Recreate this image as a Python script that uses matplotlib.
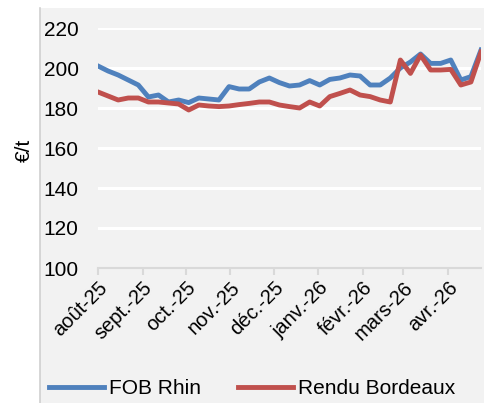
import matplotlib
matplotlib.use('Agg')
import matplotlib.pyplot as plt
import matplotlib.transforms as mtransforms
from matplotlib.patches import Rectangle
from matplotlib.lines import Line2D
import pandas as pd

# weekly prices, 1 Aug 2025 -> 24 Apr 2026
weeks = pd.date_range('2025-08-01', periods=39, freq='7D')
fob_rhin = [201, 198.5, 196.5, 194, 191.5, 185.5, 186.5, 183, 184, 182.7,
            185, 184.5, 184, 190.7, 189.5, 189.5, 193, 195, 192.7, 191,
            191.5, 193.7, 191.5, 194.3, 195, 196.5, 196, 191.5, 191.5, 195,
            200, 203, 207, 202.3, 202.3, 204, 194, 195.7, 209]
rendu_bordeaux = [188, 186, 184, 185, 185, 183, 183, 182.5, 182, 179,
                  181.5, 181, 180.7, 181, 181.7, 182.3, 183, 183, 181.5, 180.7,
                  180, 183, 181, 185.7, 187.3, 189, 186.5, 185.7, 184, 183,
                  204, 197.3, 206.5, 199, 199, 199.3, 191.5, 193, 208]

month_ticks = pd.date_range('2025-08-01', periods=9, freq='MS')
month_labels = ['août-25', 'sept.-25', 'oct.-25', 'nov.-25', 'déc.-25',
                'janv.-26', 'févr.-26', 'mars-26', 'avr.-26']
y_ticks = [100, 120, 140, 160, 180, 200, 220]

plt.rcParams['font.family'] = ['Liberation Sans', 'DejaVu Sans']

W, H = 485, 403
fig = plt.figure(figsize=(W / 100, H / 100), dpi=100)
fig.patch.set_facecolor('white')

# grey chart panel (behind the axes)
fig.patches.append(Rectangle((40 / W, 0), 1 - 40 / W, 1 - 8 / H,
                             transform=fig.transFigure, facecolor='#F2F2F2',
                             edgecolor='none', zorder=-2))
fig.lines.append(Line2D([40 / W, 40 / W], [0, 1 - 8 / H], transform=fig.transFigure,
                        color='#D0D0D0', linewidth=1.2, zorder=-1))

ax = fig.add_axes([98 / W, 1 - 268 / H, 383 / W, 240 / H])
ax.set_facecolor('#F2F2F2')

blue = '#4F81BD'
red = '#C0504D'
ax.plot(weeks, fob_rhin, color=blue, linewidth=3.5, solid_joinstyle='round',
        label='FOB Rhin', zorder=3)
ax.plot(weeks, rendu_bordeaux, color=red, linewidth=3.5, solid_joinstyle='round',
        label='Rendu Bordeaux', zorder=4)

ax.set_ylim(100, 220)
ax.set_yticks(y_ticks)
ax.set_xlim(weeks[0], weeks[-1])
ax.set_xticks(month_ticks)
ax.set_xticklabels(month_labels, rotation=45, ha='right', va='top',
                   rotation_mode='anchor', fontsize=14.5)
shift = mtransforms.ScaledTranslation(6 / 100, -6 / 100, fig.dpi_scale_trans)
for lab in ax.get_xticklabels():
    lab.set_transform(lab.get_transform() + shift)

ax.grid(axis='y', color='white', linewidth=2.2)
ax.set_axisbelow(True)
for s in ['top', 'right', 'left']:
    ax.spines[s].set_visible(False)
ax.spines['bottom'].set_color('#D9D9D9')
ax.spines['bottom'].set_linewidth(1.5)
ax.spines['bottom'].set_zorder(2)
ax.tick_params(axis='x', colors='#D9D9D9', length=5, width=1.5, labelcolor='black', pad=2)
ax.tick_params(axis='y', length=0, pad=14, labelsize=15, labelcolor='black')

fig.text(24 / W, 1 - 150 / H, '€/t', rotation=90, ha='center', va='center', fontsize=15)

fig.legend(loc='center', bbox_to_anchor=(252 / W, 1 - 389 / H), ncol=2, frameon=False,
           fontsize=15, handlelength=2.65, handletextpad=0.25, columnspacing=1.75,
           borderaxespad=0)

plt.savefig('out.png', dpi=100)
plt.close()
